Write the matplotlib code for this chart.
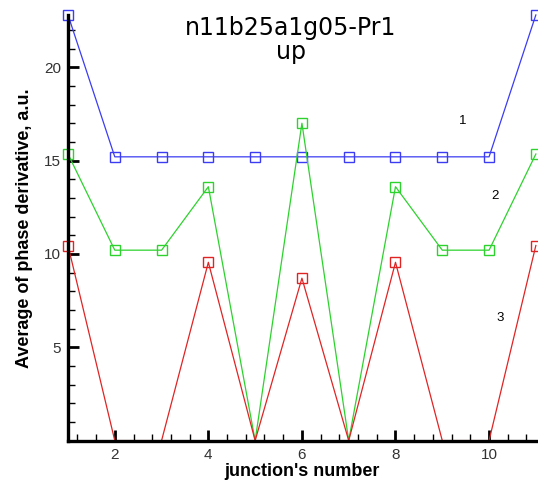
import numpy as np
import matplotlib
matplotlib.use("Agg")
import matplotlib.pyplot as plt
from matplotlib.ticker import MultipleLocator, FixedLocator

# junction numbers and average phase derivative for the three curves
junction = [1, 2, 3, 4, 5, 6, 7, 8, 9, 10, 11]
curve1 = [22.8, 15.2, 15.2, 15.2, 15.2, 15.2, 15.2, 15.2, 15.2, 15.2, 22.8]
curve2 = [15.35, 10.2, 10.2, 13.6, 0.0, 17.0, 0.0, 13.6, 10.2, 10.2, 15.35]
curve3 = [10.45, 0.0, 0.0, 9.55, 0.0, 8.7, 0.0, 9.55, 0.0, 0.0, 10.45]
curve_names = ["1", "2", "3"]
name_pos = [(9.44, 17.1), (10.12, 13.1), (10.23, 6.55)]
colors = ["#3c3cf2", "#2ed22e", "#e02424"]

plt.rcParams['font.family'] = ['Liberation Sans', 'DejaVu Sans']

fig = plt.figure(figsize=(5.38, 4.82), dpi=100)
ax = fig.add_axes([0.1264, 0.0859, 0.8696, 0.8831])

for vals, c in zip([curve1, curve2, curve3], colors):
    # markers sitting on the axis are clipped away in the original
    mask = [v > 0 for v in vals]
    ax.plot(junction, vals, color=c, lw=0.9, marker='s', ms=6.5,
            mfc='none', mec=c, mew=1.0, markevery=mask, clip_on=False)

for name, (x, y) in zip(curve_names, name_pos):
    ax.text(x, y, name, fontsize=9.5, ha='center', va='center')

ax.set_xlim(1, 11)
ax.set_ylim(0, 22.8)

ax.xaxis.set_major_locator(FixedLocator([2, 4, 6, 8, 10]))
ax.xaxis.set_minor_locator(MultipleLocator(0.4))
ax.yaxis.set_major_locator(FixedLocator([5, 10, 15, 20]))
ax.yaxis.set_minor_locator(MultipleLocator(1))

for side in ['top', 'right']:
    ax.spines[side].set_visible(False)
for side in ['left', 'bottom']:
    ax.spines[side].set_linewidth(2.4)

ax.tick_params(which='major', direction='in', length=8, width=2, labelsize=11,
               labelcolor='#333333', pad=5)
ax.tick_params(which='minor', direction='in', length=5, width=1)

ax.set_xlabel("junction's number", fontsize=13, fontweight='bold', labelpad=1)
ax.set_ylabel("Average of phase derivative, a.u.", fontsize=13, fontweight='bold', labelpad=8)

fig.text(0.54, 0.918, "n11b25a1g05-Pr1\nup", fontsize=17, ha='center', va='center',
         linespacing=1.0, family='DejaVu Sans')

fig.savefig("out.png", dpi=100)
